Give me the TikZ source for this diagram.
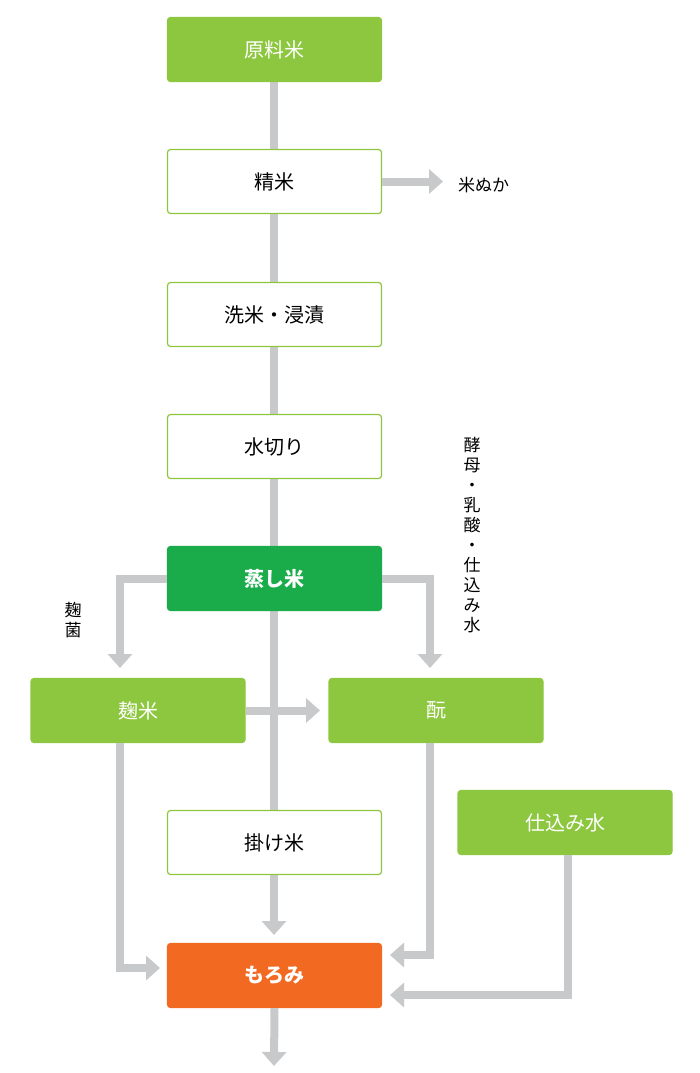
\documentclass[tikz,border=0pt]{standalone}
\usepackage{fontspec}
\setmainfont{Noto Sans CJK JP}
\usetikzlibrary{arrows.meta}
\definecolor{lg}{HTML}{8DC63F}
\definecolor{dg}{HTML}{1AAB4B}
\definecolor{og}{HTML}{F26A21}
\definecolor{ln}{HTML}{C8C9CB}
\begin{document}
\begin{tikzpicture}[x=1pt,y=-1pt,
 box/.style={draw=lg,line width=1.2pt,rounded corners=3pt,minimum width=214pt,minimum height=64pt,font=\fontsize{20}{24}\selectfont,inner sep=0pt},
 wb/.style={box,fill=white,text=black},
 gb/.style={box,fill=lg,text=white},
 conn/.style={draw=ln,line width=8pt},
 arr/.style={conn,-{Triangle[length=14pt,width=24pt]}},
 lab/.style={font=\fontsize{17}{20}\selectfont,align=center,inner sep=0pt}]
\useasboundingbox (0,0) rectangle (700,1073);
\coordinate (top) at (274,82);
\draw[conn] (274,82) -- (274,810);
\draw[arr] (274,875) -- (274,935);
\node[gb] (genryo) at (274.5,49.5) {原料米};
\node[wb] (seimai) at (274.5,181.5) {精米};
\node[wb] (senmai) at (274.5,314.5) {洗米・浸漬};
\node[wb] (mizu) at (274.5,446.5) {水切り};
\node[box,fill=dg,draw=dg,text=white,font=\fontsize{20}{24}\selectfont\bfseries] (mushi) at (274.5,578.5) {蒸し米};
\node[gb] (koji) at (138,710.5) {麹米};
\node[gb] (moto) at (436,710.5) {酛};
\node[gb] (shikomi) at (565,822.5) {仕込み水};
\node[wb] (kake) at (274.5,842.5) {掛け米};
\node[box,fill=og,draw=og,text=white,font=\fontsize{20}{24}\selectfont\bfseries] (moromi) at (274.5,975.5) {もろみ};
\node[lab,anchor=west] (nuka) at (458,185) {米ぬか};
\node[lab] (kin) at (73,620) {麹\\菌};
\node[lab] (kobo) at (472,535) {酵\\母\\・\\乳\\酸\\・\\仕\\込\\み\\水};
\coordinate (e) at (moromi.south);
\draw[arr] (seimai.east) -- (443,181.5);
\draw[arr] (mushi.west) -- (120,578.5) -- (120,668);
\draw[arr] (mushi.east) -- (430,578.5) -- (430,668);
\draw[arr] (koji.east) -- (320,710.5);
\draw[arr] (120,743) -- (120,968) -- (160,968);
\draw[arr] (430,743) -- (430,955) -- (390,955);
\draw[arr] (568,855) -- (568,995) -- (390,995);
\draw[arr] (e) -- (274,1066);
\end{tikzpicture}
\end{document}
